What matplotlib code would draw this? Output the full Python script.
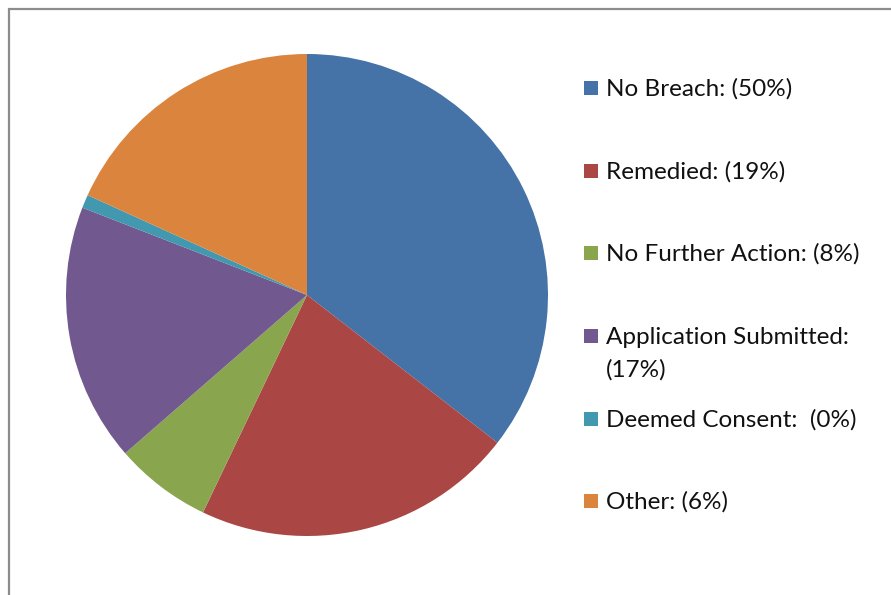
import matplotlib
matplotlib.use("Agg")
import matplotlib.pyplot as plt
from matplotlib.patches import Rectangle

# slice shares (the legend text keeps its own numbers)
categories = ["No Breach", "Remedied", "No Further Action",
              "Application Submitted", "Deemed Consent", "Other"]
shares = [35.5, 21.6, 6.5, 17.3, 0.9, 18.2]
legend_labels = ["No Breach: (50%)", "Remedied: (19%)", "No Further Action: (8%)",
                 "Application Submitted:\n(17%)", "Deemed Consent:  (0%)", "Other: (6%)"]
colors = ["#4572A7", "#AA4643", "#89A54E", "#71588F", "#4198AF", "#DB843D"]

W, H = 891, 595
fig = plt.figure(figsize=(W / 100, H / 100), dpi=100)
plt.rcParams['font.family'] = ['Lato', 'DejaVu Sans']

# outer frame, runs off the right and bottom edges
fig.patches.append(Rectangle((9 / W, -0.05), 1.1, (H - 9) / H + 0.05, transform=fig.transFigure,
                             fill=False, edgecolor="#8c8c8c", linewidth=1.6))

# pie
cx, cy, r = 307, 295, 241
ax = fig.add_axes([(cx - r) / W, (H - cy - r) / H, 2 * r / W, 2 * r / H])
ax.pie(shares, colors=colors, startangle=90, counterclock=False,
       wedgeprops=dict(linewidth=0))
ax.set_xlim(-1, 1)
ax.set_ylim(-1, 1)
ax.set_aspect("equal")
ax.axis("off")

# legend, drawn by hand to keep Excel's spacing
rows_y = [88, 171, 253, 336, 419, 501]
for lab, col, y in zip(legend_labels, colors, rows_y):
    fig.patches.append(Rectangle((584 / W, (H - y - 7) / H), 14 / W, 14 / H,
                                 transform=fig.transFigure, facecolor=col, edgecolor="none"))
    for i, line in enumerate(lab.split("\n")):
        fig.text(606 / W, (H - y - 1 - 33 * i) / H, line, fontsize=17.5, color="#111111",
                 ha="left", va="center")

fig.savefig("out.png", dpi=100)
